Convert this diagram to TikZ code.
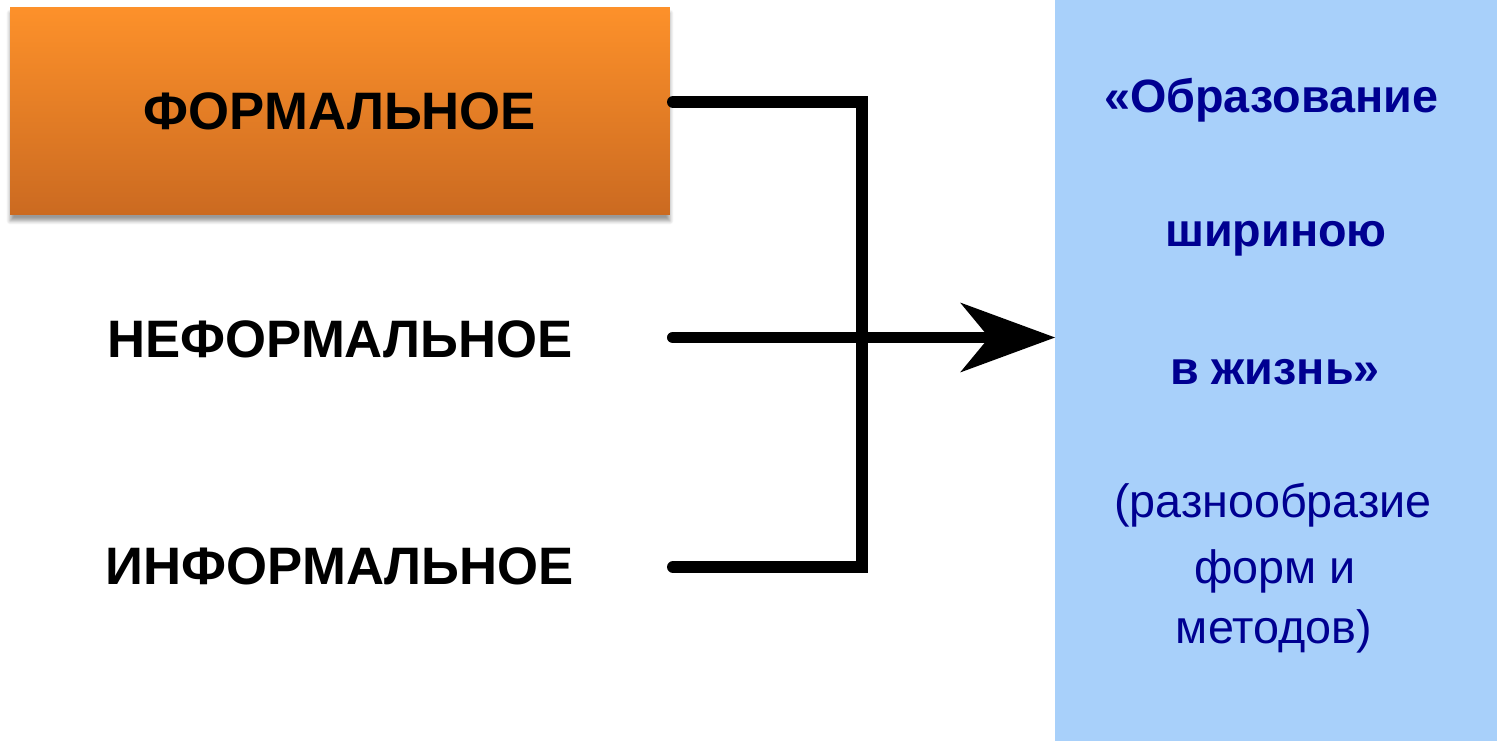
\documentclass[tikz,border=0pt]{standalone}
\usepackage{fontspec}
\setmainfont{Liberation Sans}
\usetikzlibrary{arrows.meta,shadows.blur}
\definecolor{orangetop}{RGB}{253,145,42}
\definecolor{orangebot}{RGB}{203,106,33}
\definecolor{panelblue}{RGB}{168,208,250}
\definecolor{goalnavy}{RGB}{0,0,145}
\begin{document}
\begin{tikzpicture}[x=.02cm,y=.02cm,
    kind/.style={font=\fontsize{30}{36}\selectfont\bfseries},
    formbox/.style={kind,top color=orangetop,bottom color=orangebot,inner sep=0pt,
        minimum width=13.2cm,minimum height=4.16cm,
        blur shadow={shadow xshift=0pt,shadow yshift=-1.2mm,shadow blur steps=6,shadow opacity=40}},
    panel/.style={fill=panelblue,inner sep=0pt,outer sep=0pt,minimum width=8.84cm,minimum height=14.82cm},
    goaltext/.style={text=goalnavy,anchor=base,font=\fontsize{26.6}{31}\selectfont},
    goalbold/.style={goaltext,font=\fontsize{26.6}{31}\selectfont\bfseries},
    link/.style={line width=.24cm,line cap=round,line join=miter}]
\useasboundingbox (0,0) rectangle (1497,741);
% right-hand panel
\node[panel] (goal) at (1276,370.5) {};
\node[goalbold] (g1) at (1271,628) {«Образование};
\node[goalbold] (g2) at (1276,494) {шириною};
\node[goalbold] (g3) at (1275,357) {в жизнь»};
\node[goaltext] (g4) at (1273,224) {(разнообразие};
\node[goaltext] (g5) at (1275,158) {форм и};
\node[goaltext] (g6) at (1274,98) {методов)};
% three kinds
\node[formbox] (formal) at (340,630) {ФОРМАЛЬНОЕ};
\node[kind] (nonformal) at (340,402) {НЕФОРМАЛЬНОЕ};
\node[kind] (informal) at (340,174.5) {ИНФОРМАЛЬНОЕ};
\coordinate (a) at (673,639);
\coordinate (b) at (673,403.5);
\coordinate (c) at (673,174);
\coordinate (spine) at (862,400);
\draw[link] (a) -| (spine) |- (c);
\draw[link,-{Stealth[length=1.9cm,width=1.4cm,inset=.58cm,line width=0pt]}] (b) -- (b -| goal.west);
\end{tikzpicture}
\end{document}
